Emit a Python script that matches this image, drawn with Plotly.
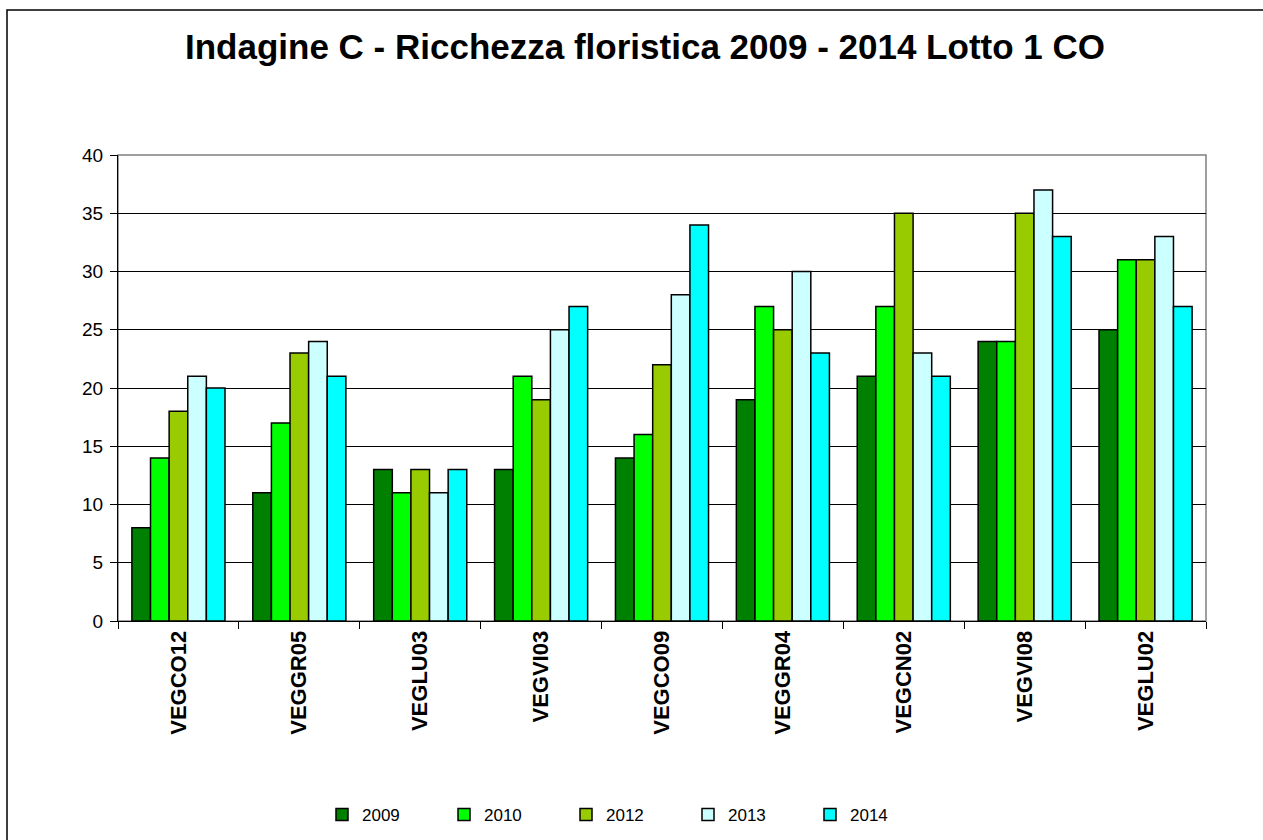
import plotly.graph_objects as go

categories = ["VEGCO12", "VEGGR05", "VEGLU03", "VEGVI03", "VEGCO09", "VEGGR04", "VEGCN02", "VEGVI08", "VEGLU02"]
years = ["2009", "2010", "2012", "2013", "2014"]
v2009 = [8, 11, 13, 13, 14, 19, 21, 24, 25]
v2010 = [14, 17, 11, 21, 16, 27, 27, 24, 31]
v2012 = [18, 23, 13, 19, 22, 25, 35, 35, 31]
v2013 = [21, 24, 11, 25, 28, 30, 23, 37, 33]
v2014 = [20, 21, 13, 27, 34, 23, 21, 33, 27]
series = [v2009, v2010, v2012, v2013, v2014]
colors = ["#008000", "#00FF00", "#99CC00", "#CCFFFF", "#00FFFF"]

fig = go.Figure()
for name, vals, col in zip(years, series, colors):
    fig.add_trace(go.Bar(
        x=categories, y=vals, name=name,
        marker=dict(color=col, line=dict(color="#000000", width=1.5)),
    ))

L, R, T, B = 118, 57, 155, 219
W, H = 1263, 840
pw = W - L - R
ph = H - T - B
FONT = "Arial, Liberation Sans, sans-serif"

fig.update_layout(
    width=W, height=H,
    margin=dict(l=L, r=R, t=T, b=B, autoexpand=False),
    paper_bgcolor="white", plot_bgcolor="white",
    barmode="group", bargap=0.23, bargroupgap=0,
    font=dict(family=FONT, color="black"),
    title=dict(text="<b>Indagine C - Ricchezza floristica 2009 - 2014 Lotto 1 CO</b>",
               x=645 / W, xanchor="center", y=1 - 47 / H, yanchor="middle",
               font=dict(size=35, color="black")),
    xaxis=dict(
        type="category", tickangle=-90, tickson="boundaries",
        ticks="outside", ticklen=7, tickcolor="black",
        tickfont=dict(size=22, family=FONT, weight="bold"),
        showline=True, linecolor="black", linewidth=1,
        mirror=False, showgrid=False, automargin=False,
    ),
    yaxis=dict(
        range=[0, 40], dtick=5, tick0=0,
        ticks="outside", ticklen=7, tickcolor="black",
        tickfont=dict(size=19), ticklabelstandoff=3,
        showline=True, linecolor="black", linewidth=1,
        showgrid=True, gridcolor="black", gridwidth=1,
        zeroline=False, automargin=False,
    ),
    legend=dict(
        orientation="h", x=(627 - L) / pw, xanchor="center",
        y=-(815 - (H - B)) / ph, yanchor="middle",
        font=dict(size=17), itemwidth=30,
        traceorder="normal", entrywidth=77, entrywidthmode="pixels",
    ),
    showlegend=True,
)

# plot area border (top and right gray)
fig.add_shape(type="rect", xref="paper", yref="paper", x0=0, y0=0, x1=1, y1=1,
              line=dict(color="#808080", width=1.5), layer="below")
# outer chart border
fig.add_shape(type="rect", xref="paper", yref="paper",
              x0=(7 - L) / pw, y0=-(H + 5 - (H - B)) / ph,
              x1=(W + 5 - L) / pw, y1=((H - B) - 10) / ph,
              line=dict(color="black", width=1.5))

fig.write_html("out.html", config={"displayModeBar": False},
               post_script="document.body.style.margin='0';document.body.style.overflow='hidden';")
